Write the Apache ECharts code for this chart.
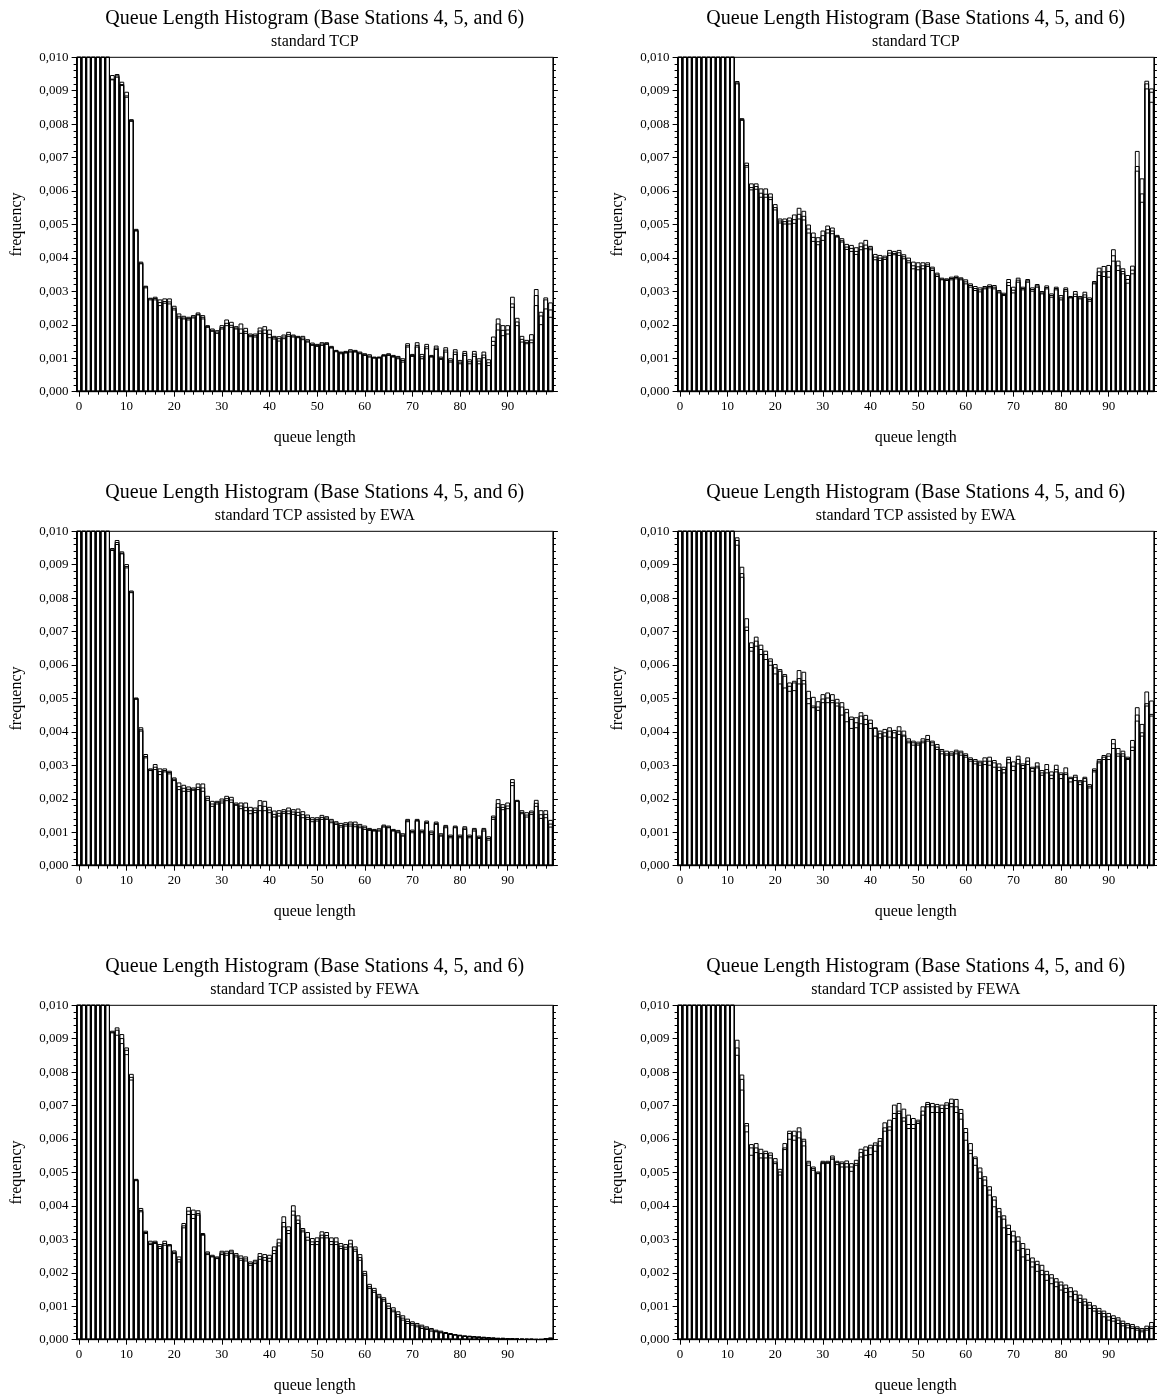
<!DOCTYPE html>
<html>
<head>
<meta charset="utf-8">
<script src="https://cdn.jsdelivr.net/npm/echarts@6/dist/echarts.min.js"></script>
<style>
  html, body { margin: 0; padding: 0; background: #fff; }
  #chart { width: 1157px; height: 1396px; }
</style>
</head>
<body>
<div id="chart"></div>
<script>
// frequency values in units of 1e-4, one entry per queue length 0..99
// three base stations per panel, drawn on top of each other
const queueLengths = Array.from({ length: 100 }, (_, i) => String(i));
const yTicks = [0, 10, 20, 30, 40, 50, 60, 70, 80, 90, 100];

const mainTitle = 'Queue Length Histogram (Base Stations 4, 5, and 6)';
const subTitles = [
    'standard TCP', 'standard TCP',
    'standard TCP assisted by EWA', 'standard TCP assisted by EWA',
    'standard TCP assisted by FEWA', 'standard TCP assisted by FEWA'
];

// standard TCP, left
const tcpL_a = [420,310,240,190,160,135,115,94.7,95.0,92.7, 89.7,81.5,48.7,38.9,31.7,28.1,28.4,27.6,27.9,27.9,
    25.7,23.4,22.7,22.4,22.9,23.7,22.9,19.9,18.9,18.4, 19.9,21.6,20.9,19.6,20.4,19.1,17.4,17.4,19.2,19.6,
    18.6,16.7,16.6,17.1,17.9,17.1,16.7,16.7,15.7,14.7, 14.3,14.8,14.8,13.7,12.5,12.0,12.2,12.7,12.5,12.0,
    11.5,11.2,10.5,10.5,11.2,11.5,11.0,10.7,10.0,14.5, 11.3,14.8,11.3,14.3,11.0,13.8,10.5,13.3,10.0,12.7,
    9.5,12.2,9.7,12.2,10.0,12.0,9.7,16.5,21.9,19.9, 19.9,28.4,22.1,16.7,15.5,17.2,30.7,23.9,28.2,26.7];
const tcpL_b = [410,300,235,185,155,130,112,93.4,94.2,91.7, 88.2,81.0,48.2,38.4,31.2,27.6,27.6,25.9,26.6,26.4,
    24.6,22.2,21.9,21.6,22.2,23.1,21.9,19.4,18.2,17.6, 18.9,19.9,19.4,18.9,17.6,17.6,16.6,16.5,17.6,17.6,
    16.3,15.9,15.3,16.0,16.7,16.5,16.3,15.7,15.0,14.0, 13.7,14.0,14.3,13.2,12.1,11.5,11.7,12.0,12.0,11.5,
    11.0,10.5,10.2,10.2,10.8,11.0,10.5,10.0,9.0,13.5, 10.7,13.5,10.0,13.0,10.5,12.8,9.8,12.0,9.0,11.3,
    8.5,11.0,8.5,10.7,8.5,10.3,8.0,14.0,18.6,16.9, 17.4,25.4,19.9,15.0,14.5,14.8,25.9,20.2,24.9,22.4];
const tcpL_c = [415,305,238,188,158,132,113,93.6,94.6,92.0, 88.6,81.2,48.4,38.6,31.5,27.9,28.0,26.8,27.1,27.0,
    25.1,22.7,22.2,22.0,22.5,23.3,22.4,19.6,18.5,18.0, 19.3,20.6,20.0,19.2,18.9,18.2,17.0,16.9,18.3,18.6,
    17.3,16.3,16.0,16.5,17.2,16.8,16.5,16.2,15.3,14.3, 14.0,14.4,14.5,13.4,12.3,11.8,11.9,12.3,12.2,11.7,
    11.2,10.8,10.3,10.4,11.0,11.2,10.7,10.3,9.5,13.9, 11.0,14.0,10.6,13.6,10.7,13.2,10.1,12.6,9.4,12.0,
    9.0,11.6,9.1,11.4,9.3,11.1,8.8,15.2,20.4,18.5, 18.6,26.4,21.0,15.8,14.9,15.6,28.9,22.8,27.6,24.6];

// standard TCP, right
const tcpR_a = [300,230,190,170,158,147,138,131,124,118, 111,104,92.9,81.8,68.5,62.3,62.3,60.8,60.8,59.3,
    56.1,51.8,51.8,52.1,53.0,55.0,54.1,50.0,47.6,46.2, 48.2,49.7,49.1,46.9,45.9,44.2,43.9,43.2,44.6,45.4,
    43.6,41.2,40.9,40.7,42.4,42.1,42.4,41.1,40.1,38.9, 38.7,38.7,38.7,37.4,35.6,34.1,33.9,34.4,34.7,34.2,
    33.6,32.4,31.6,31.2,31.6,32.1,31.9,30.4,29.6,33.7, 31.4,34.1,31.4,33.7,31.2,32.2,30.1,31.8,29.4,31.4,
    28.9,31.2,28.6,30.1,28.6,29.9,28.2,33.1,37.1,37.6, 37.9,42.6,39.2,36.9,34.9,37.7,72.0,63.8,93.0,90.7];
const tcpR_b = [295,226,187,167,155,145,136,129,122,116, 109,102,92.2,81.3,67.3,60.5,60.7,58.3,58.3,57.6,
    54.5,50.6,50.3,50.3,50.5,51.8,51.5,47.6,45.1,44.1, 45.4,47.6,47.4,46.4,44.9,42.7,42.1,41.2,42.6,42.9,
    42.6,39.6,39.4,39.7,40.9,41.1,40.9,39.9,38.7,36.9, 36.6,36.9,37.6,36.4,34.6,33.6,33.4,33.6,33.9,33.6,
    32.4,31.4,30.4,30.0,30.9,31.2,30.9,29.7,28.9,31.9, 29.7,32.9,30.6,32.9,30.2,31.4,29.4,30.9,28.4,30.6,
    27.6,30.2,28.2,28.6,27.9,28.4,27.2,32.4,34.9,34.6, 34.4,39.2,36.4,35.4,32.6,35.4,66.1,56.8,90.7,86.7];
const tcpR_c = [298,228,188,168,156,146,137,130,123,117, 110,103,92.5,81.5,67.8,61.2,61.5,59.5,59.2,58.3,
    55.2,51.2,51.0,51.2,51.6,53.2,52.6,48.8,46.3,45.0, 46.8,48.6,48.2,46.6,45.3,43.4,43.0,42.1,43.5,44.0,
    43.1,40.4,40.1,40.2,41.6,41.5,41.7,40.5,39.3,37.8, 37.5,37.8,38.1,36.9,35.1,33.8,33.6,34.0,34.3,33.9,
    33.0,31.9,31.0,30.6,31.2,31.6,31.4,30.0,29.2,32.8, 30.5,33.5,31.0,33.3,30.7,31.8,29.7,31.3,28.9,31.0,
    28.2,30.7,28.4,29.3,28.2,29.1,27.7,32.7,36.0,36.0, 36.1,40.8,37.8,36.1,33.7,36.5,67.5,59.3,92.2,89.7];

// TCP + EWA, left
const ewaL_a = [430,320,245,195,162,138,116,95.0,97.4,94.0, 90.2,82.3,50.3,41.4,33.4,29.1,30.4,29.1,29.1,28.4,
    26.4,24.9,24.2,23.7,23.4,24.6,24.6,20.9,19.4,19.4, 20.1,20.9,20.6,18.9,18.9,18.9,17.6,17.4,19.6,19.4,
    17.6,16.5,16.6,16.9,17.4,16.9,17.1,16.3,15.3,14.5, 14.5,15.2,14.8,14.0,13.3,12.8,13.0,13.2,13.2,12.5,
    12.0,11.3,11.0,11.2,12.3,12.0,11.0,10.7,9.7,14.0, 10.8,14.0,10.8,13.5,10.5,13.2,9.7,12.2,9.3,12.0,
    9.3,11.8,9.3,11.3,9.0,11.3,8.8,15.0,19.9,18.4, 18.9,25.9,19.7,16.6,16.0,16.5,19.7,16.6,16.6,13.7];
const ewaL_b = [425,315,240,190,158,134,113,94.4,96.2,93.4, 89.2,81.8,49.9,40.4,32.4,28.6,28.9,27.4,28.2,27.6,
    25.6,22.9,22.4,22.4,22.7,22.9,22.4,19.7,17.9,18.6, 18.9,19.6,19.1,18.2,17.2,16.6,15.7,16.0,16.6,16.6,
    16.0,14.7,15.0,15.8,15.7,15.5,15.2,14.5,14.0,13.3, 13.5,14.0,14.0,13.0,12.5,11.7,12.0,12.0,11.8,11.5,
    11.0,10.7,10.5,10.5,11.7,11.5,10.5,10.0,9.0,13.3, 10.0,13.5,10.0,12.8,9.5,12.5,9.0,11.5,8.5,11.5,
    8.5,11.0,8.5,10.5,8.3,10.5,7.8,14.0,17.6,16.9, 17.2,24.1,19.4,15.7,14.7,15.5,17.9,14.3,14.5,11.7];
const ewaL_c = [428,318,242,192,160,136,114,94.6,96.8,93.6, 89.6,82.0,50.1,40.8,32.8,28.8,29.6,28.3,28.6,28.0,
    26.0,23.8,23.3,23.0,23.0,23.6,23.4,20.3,18.6,19.0, 19.5,20.2,19.8,18.5,18.0,17.6,16.6,16.7,18.1,17.9,
    16.8,15.5,15.8,16.3,16.5,16.2,16.1,15.4,14.6,13.9, 14.0,14.6,14.4,13.5,12.9,12.2,12.5,12.6,12.4,12.0,
    11.5,11.0,10.7,10.8,12.0,11.7,10.7,10.3,9.3,13.6, 10.4,13.7,10.4,13.1,10.0,12.8,9.3,11.8,8.9,11.7,
    8.9,11.4,8.9,10.9,8.6,10.9,8.3,14.5,18.7,17.6, 18.0,25.0,19.5,16.1,15.3,16.0,18.8,15.4,15.5,12.6];

// TCP + EWA, right
const ewaR_a = [310,235,195,172,160,149,140,132,125,119, 112,105,98.2,89.4,74.0,66.8,68.5,66.1,64.3,62.0,
    60.3,58.8,57.3,54.8,55.3,58.5,58.0,52.3,50.5,49.2, 51.3,51.8,51.3,49.9,48.9,46.9,44.6,44.4,45.9,45.1,
    43.7,41.4,40.4,40.9,41.4,40.6,41.7,40.4,38.1,37.4, 37.1,38.1,39.1,37.4,36.4,34.9,34.4,34.2,34.7,34.4,
    33.6,32.4,31.9,31.4,32.4,32.6,31.6,30.6,29.6,32.6, 31.2,32.9,30.6,32.4,29.6,30.9,28.6,30.4,28.2,30.2,
    27.9,29.4,26.6,27.2,25.6,26.6,24.4,29.1,31.9,33.1, 33.6,37.9,35.2,34.4,32.6,37.6,47.4,42.4,52.1,49.4];
const ewaR_b = [305,231,192,169,157,147,138,130,123,117, 110,103,96.0,86.4,70.5,64.3,65.8,63.3,61.8,60.1,
    57.5,54.5,53.3,52.3,52.5,54.5,54.5,48.6,47.4,46.6, 48.9,48.9,48.9,47.9,45.2,43.2,41.2,41.4,42.6,42.4,
    41.2,38.9,38.4,38.9,38.6,38.4,39.4,38.9,36.9,36.2, 36.2,36.9,37.4,36.2,34.9,33.6,33.2,33.2,33.6,33.2,
    32.6,31.4,30.6,30.2,30.4,30.2,29.6,28.6,27.9,30.9, 28.6,30.6,29.2,30.4,28.4,29.4,27.2,27.9,26.2,28.2,
    26.2,27.4,25.2,25.6,24.4,25.4,23.4,28.2,30.9,31.9, 31.9,35.2,32.9,32.9,31.9,34.6,43.4,38.9,47.9,44.9];
const ewaR_c = [308,233,193,170,158,148,139,131,124,118, 111,104,97.4,87.5,71.5,65.4,67.3,64.8,63.3,61.3,
    59.3,58.3,56.8,53.8,54.8,56.1,55.5,50.1,47.9,47.6, 50.0,50.3,49.6,48.8,47.6,45.9,43.9,42.9,44.9,43.9,
    42.7,41.2,39.6,39.9,40.4,39.9,40.4,39.2,37.4,36.9, 36.6,37.4,37.9,36.9,35.6,34.4,33.6,33.6,34.2,33.9,
    33.1,31.9,31.4,30.9,31.4,31.4,30.9,29.6,28.9,31.9, 29.9,31.9,30.1,31.4,29.2,29.9,27.9,28.9,27.2,28.9,
    27.4,27.9,26.2,26.6,25.2,26.2,23.9,28.6,31.4,32.6, 32.9,36.6,33.6,33.6,32.2,35.6,45.2,39.9,48.6,45.4];

// TCP + FEWA, left
const fewaL_a = [440,330,250,198,165,140,118,92.4,93.4,91.4, 87.4,79.5,48.1,39.4,32.6,29.6,29.6,28.6,29.6,28.6,
    26.7,24.9,34.9,39.7,38.9,38.7,31.9,26.4,25.4,24.9, 26.6,26.6,26.9,25.9,25.2,24.9,23.4,23.9,25.9,25.6,
    25.4,27.9,30.2,36.9,33.9,40.2,37.2,33.4,32.2,30.4, 30.6,32.4,32.2,30.6,30.6,28.9,28.6,29.9,27.9,25.6,
    20.6,16.7,15.5,13.7,12.7,11.0,9.7,8.5,7.3,6.3, 5.5,5.0,4.5,4.0,3.5,3.0,2.7,2.3,2.0,1.7,
    1.5,1.3,1.2,1.1,1.0,0.9,0.8,0.7,0.6,0.6, 0.5,0.5,0.4,0.3,0.3,0.3,0.2,0.2,0.5,0.7];
const fewaL_b = [435,325,245,194,161,137,115,91.9,91.2,88.7, 85.4,77.8,47.7,38.4,31.9,28.6,28.9,27.4,28.4,28.2,
    25.9,23.4,33.6,37.6,36.4,37.4,31.4,25.6,24.9,24.4, 25.6,25.4,25.9,24.9,23.9,23.7,22.4,22.9,24.2,23.9,
    23.6,25.9,28.2,33.9,31.9,37.4,34.9,32.4,29.9,28.6, 28.6,30.6,30.6,28.6,28.6,27.4,27.2,27.9,26.6,23.9,
    19.4,15.5,14.3,12.7,11.7,9.5,8.5,7.0,6.0,5.0, 4.5,4.0,3.5,3.2,2.7,2.5,2.2,2.0,1.7,1.5,
    1.3,1.1,1.0,0.9,0.8,0.7,0.6,0.5,0.5,0.4, 0.4,0.3,0.3,0.2,0.2,0.2,0.1,0.1,0.3,0.4];
const fewaL_c = [438,328,248,196,163,139,116,92.1,92.7,90.2, 86.7,78.6,47.9,38.8,32.2,29.0,29.2,28.0,28.9,28.4,
    26.3,24.1,34.2,38.6,37.6,37.9,31.6,26.0,25.1,24.6, 26.1,26.0,26.4,25.4,24.5,24.3,22.9,23.4,25.0,24.7,
    24.5,26.8,29.1,35.2,32.8,38.6,35.9,32.9,30.8,29.4, 29.5,31.4,31.3,29.5,29.4,28.1,27.8,28.8,27.2,24.7,
    19.9,16.0,14.8,13.2,12.2,10.2,9.0,7.7,6.6,5.6, 5.0,4.5,4.0,3.6,3.1,2.7,2.4,2.1,1.8,1.6,
    1.4,1.2,1.1,1.0,0.9,0.8,0.7,0.6,0.5,0.5, 0.4,0.4,0.3,0.3,0.2,0.2,0.2,0.2,0.4,0.5];

// TCP + FEWA, right
const fewaR_a = [320,240,198,175,162,151,142,134,127,120, 113,106,89.7,79.3,64.8,58.5,58.8,57.1,56.5,56.0,
    54.3,51.1,58.8,62.5,62.5,63.5,60.1,53.5,51.8,50.3, 53.5,53.5,55.1,53.5,53.3,53.6,52.8,53.8,57.1,57.8,
    58.3,59.0,60.3,65.0,65.8,70.3,70.8,69.1,67.3,66.3, 65.8,69.8,71.1,70.8,70.5,70.3,71.0,72.1,72.0,69.0,
    63.3,58.8,54.8,51.5,48.9,45.9,42.9,39.4,37.2,34.4, 32.6,30.9,28.9,27.2,24.6,23.6,22.4,20.6,19.6,18.4,
    17.4,16.5,15.7,14.7,13.5,12.3,11.3,10.3,9.5,8.7, 8.0,7.3,6.7,5.7,5.0,4.7,4.0,3.5,4.2,5.3];
const fewaR_b = [315,236,195,172,159,149,140,132,125,118, 111,104,85.2,74.8,62.3,55.3,56.1,54.5,54.5,54.5,
    52.8,49.4,57.0,60.1,59.8,60.5,58.1,52.3,50.8,49.8, 52.8,52.9,54.1,52.5,51.8,51.8,50.5,52.3,54.8,55.3,
    55.5,56.5,58.1,62.5,62.8,66.3,67.8,65.5,63.3,63.3, 64.8,67.3,69.8,68.1,68.1,68.1,69.3,69.8,68.1,66.1,
    59.8,55.8,52.3,48.4,46.2,43.4,39.9,36.9,33.6,31.6, 29.4,26.9,24.9,23.9,21.9,20.6,19.6,17.9,16.9,16.0,
    15.0,14.3,13.0,12.0,11.3,10.5,9.5,8.7,8.0,7.0, 6.0,5.7,5.0,4.3,3.7,3.5,3.0,2.5,3.0,3.5];
const fewaR_c = [318,238,196,173,160,150,141,133,126,119, 112,105,87.4,78.0,64.1,57.5,57.5,55.8,55.8,55.3,
    53.3,50.3,57.5,61.8,61.1,62.3,59.5,53.0,51.3,50.0, 53.1,53.1,54.5,53.1,52.8,52.8,51.8,52.8,56.1,56.8,
    57.5,58.3,59.5,63.5,63.8,67.8,68.5,66.5,64.5,64.5, 65.3,68.5,70.5,69.8,69.8,69.3,70.3,70.8,69.8,67.8,
    62.1,56.8,54.3,50.3,47.9,44.9,41.9,38.4,36.2,33.4, 31.2,29.6,27.4,25.6,23.4,22.6,20.9,19.6,18.6,17.4,
    16.5,15.5,14.5,13.7,12.5,11.5,10.5,9.5,8.7,8.0, 7.0,6.5,6.0,5.0,4.5,4.0,3.5,3.0,3.5,4.0];

const panelSeries = [
    [tcpL_a, tcpL_b, tcpL_c], [tcpR_a, tcpR_b, tcpR_c],
    [ewaL_a, ewaL_b, ewaL_c], [ewaR_a, ewaR_b, ewaR_c],
    [fewaL_a, fewaL_b, fewaL_c], [fewaR_a, fewaR_b, fewaR_c]
];

const FONT = 'Liberation Serif';
const colLeft = [76.6, 677.6];
const rowTop = [57.3, 531.3, 1005.3];
const plotW = 476.3;
const plotH = 334.4;

const grids = [], xAxes = [], yAxes = [], series = [], graphics = [];

panelSeries.forEach((stations, k) => {
    const left = colLeft[k % 2];
    const top = rowTop[Math.floor(k / 2)];
    const cx = left + plotW / 2;

    grids.push({
        left: left, top: top, width: plotW, height: plotH,
        show: true, borderColor: '#000', borderWidth: 1, backgroundColor: 'transparent'
    });

    // bars + labels + ticks every 2
    xAxes.push({
        type: 'category', gridIndex: k, data: queueLengths, position: 'bottom',
        boundaryGap: true,
        axisLine: { show: true, lineStyle: { color: '#000', width: 1 } },
        axisTick: { show: true, alignWithLabel: true, length: 3,
            interval: i => i % 2 === 0, lineStyle: { color: '#000' } },
        axisLabel: { show: true, interval: i => i % 10 === 0, margin: 8,
            fontFamily: FONT, fontSize: 13, color: '#000' },
        splitLine: { show: false }
    });
    // longer ticks at labelled values
    xAxes.push({
        type: 'category', gridIndex: k, data: queueLengths, position: 'bottom',
        boundaryGap: true,
        axisLine: { show: false },
        axisTick: { show: true, alignWithLabel: true, length: 5,
            interval: i => i % 10 === 0, lineStyle: { color: '#000' } },
        axisLabel: { show: false },
        splitLine: { show: false }
    });

    const yBase = {
        type: 'value', gridIndex: k, min: yTicks[0], max: yTicks[yTicks.length - 1], interval: 10,
        axisLine: { show: true, lineStyle: { color: '#000', width: 1 } },
        axisTick: { show: true, length: 5, lineStyle: { color: '#000' } },
        minorTick: { show: true, splitNumber: 5, length: 3, lineStyle: { color: '#000' } },
        splitLine: { show: false }, minorSplitLine: { show: false }
    };
    yAxes.push(Object.assign({}, yBase, {
        position: 'left',
        axisLabel: { margin: 8, fontFamily: FONT, fontSize: 13, color: '#000',
            formatter: v => (v / 10000).toFixed(3).replace('.', ',') }
    }));
    yAxes.push(Object.assign({}, yBase, {
        position: 'right',
        axisLabel: { show: false }
    }));

    stations.forEach(values => {
        series.push({
            type: 'bar', xAxisIndex: 2 * k, yAxisIndex: 2 * k,
            data: values,
            barGap: '-100%', barCategoryGap: '0%',
            clip: true,
            itemStyle: { color: 'rgba(255,255,255,0)', borderColor: '#000', borderWidth: 1 },
            emphasis: { disabled: true },
            silent: true
        });
    });

    graphics.push({
        type: 'text', x: cx, y: top - 39,
        style: { text: mainTitle, font: '20px "' + FONT + '"', fill: '#000',
            textAlign: 'center', textVerticalAlign: 'middle' }
    });
    graphics.push({
        type: 'text', x: cx, y: top - 16,
        style: { text: subTitles[k], font: '16px "' + FONT + '"', fill: '#000',
            textAlign: 'center', textVerticalAlign: 'middle' }
    });
    graphics.push({
        type: 'text', x: left - 60, y: top + plotH / 2, rotation: Math.PI / 2,
        style: { text: 'frequency', font: '16px "' + FONT + '"', fill: '#000',
            textAlign: 'center', textVerticalAlign: 'middle' }
    });
    graphics.push({
        type: 'text', x: cx, y: top + plotH + 45.6,
        style: { text: 'queue length', font: '16px "' + FONT + '"', fill: '#000',
            textAlign: 'center', textVerticalAlign: 'middle' }
    });
});

const chart = echarts.init(document.getElementById('chart'), null, { renderer: 'canvas' });
chart.setOption({
    backgroundColor: '#fff',
    animation: false,
    textStyle: { fontFamily: FONT },
    grid: grids,
    xAxis: xAxes,
    yAxis: yAxes,
    series: series,
    graphic: graphics
});
</script>
</body>
</html>
